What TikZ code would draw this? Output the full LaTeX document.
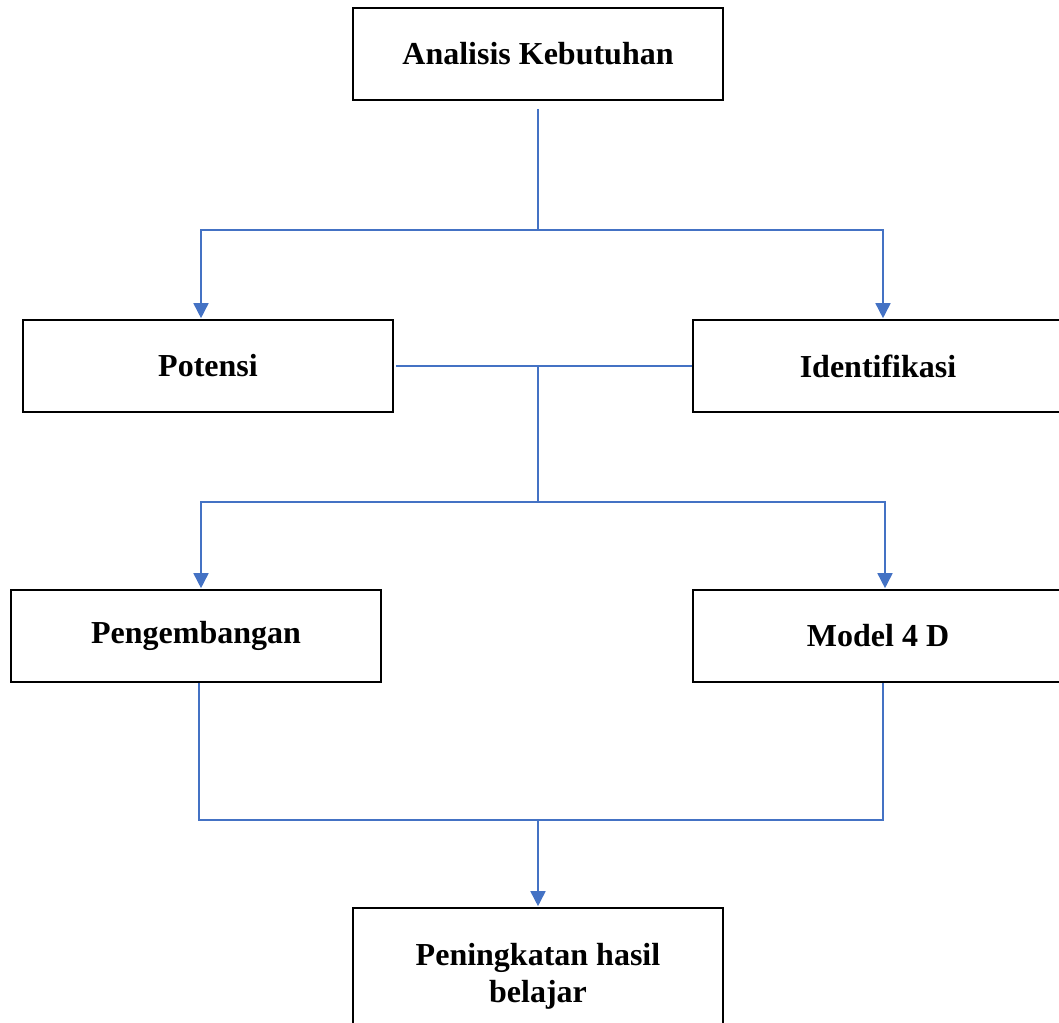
\documentclass[tikz,border=0pt]{standalone}
\usepackage{fontspec}
\setmainfont{Liberation Serif}
\usepackage{xcolor}
\usetikzlibrary{arrows.meta,calc}
\definecolor{linkblue}{HTML}{4472C4}

\begin{document}
\begin{tikzpicture}[x=1pt,y=-1pt]
		\tikzset{
		    box/.style={rectangle,draw,line width=1.6pt,minimum width=370pt,minimum height=92pt,
		        font=\bfseries\fontsize{32}{37}\selectfont,align=center},
		    link/.style={draw=linkblue,line width=1.6pt},
		    arrow/.style={link,-{Triangle[width=15pt,length=15pt]},shorten >=1pt}
		}
		\path[use as bounding box,clip] (0,0) rectangle (1059,1022);

		% boxes
		\node[box] (analisis) at (538,54) {Analisis Kebutuhan};
		\node[box] (potensi) at (208,366) {Potensi};
		\node[box] (identifikasi) at (878,366) {Identifikasi};
		\node[box] (pengembangan) at (196,636) {Pengembangan};
		\node[box] (model) at (878,636) {Model 4 D};
		\node[box,minimum height=136pt] (peningkatan) at (538,976) {Peningkatan hasil\\belajar};

		% junctions
		\coordinate (fork1) at (538,230);
		\coordinate (mid) at (538,366);
		\coordinate (fork2) at (538,502);
		\coordinate (join) at (538,820);

		%links
		\draw[link] ([yshift=-8pt]analisis.south) -- (fork1);
		\draw[arrow] (fork1) -| ([xshift=-7pt]potensi.north);
		\draw[arrow] (fork1) -| ([xshift=5pt]identifikasi.north);

		\draw[link] ([xshift=2pt]potensi.east) -- (identifikasi.west);
		\draw[link] (mid) -- (fork2);
		\draw[arrow] (fork2) -| ([xshift=5pt]pengembangan.north);
		\draw[arrow] (fork2) -| ([xshift=7pt]model.north);

		\draw[link] ([xshift=3pt]pengembangan.south) |- (join);
		\draw[link] ([xshift=5pt]model.south) |- (join);
		\draw[arrow] (join) -- (peningkatan.north);

	\end{tikzpicture}
\end{document}
